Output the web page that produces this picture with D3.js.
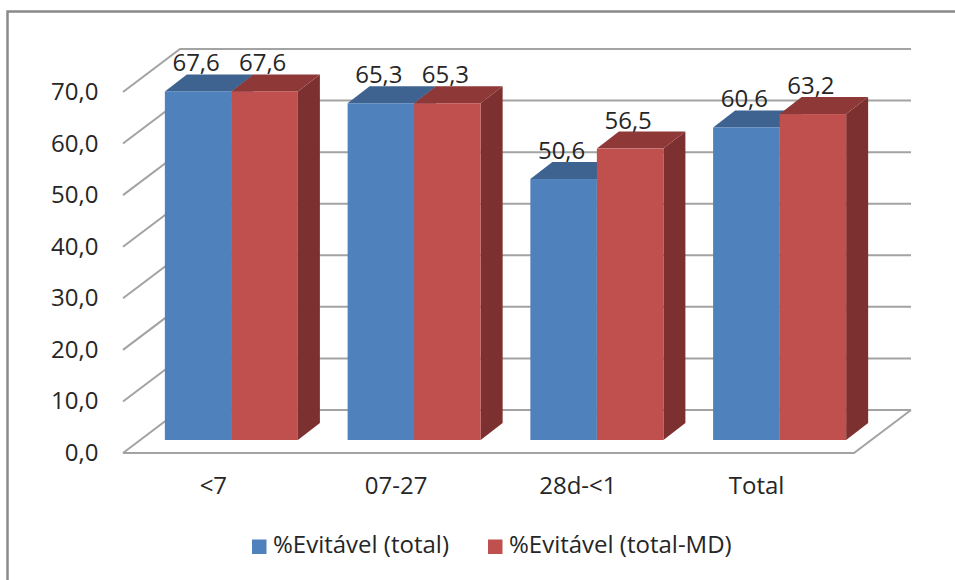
<!DOCTYPE html>
<html>
<head>
<meta charset="utf-8">
<script src="https://cdn.jsdelivr.net/npm/d3@7"></script>
<style>
html,body{margin:0;padding:0;background:#fff;}
svg{display:block;}
text{font-family:"Open Sans",sans-serif;fill:#262626;}
</style>
</head>
<body>
<svg id="chart" width="955" height="580"></svg>
<script>
const categories = ["<7", "07-27", "28d-<1", "Total"];
const seriesNames = ["%Evitável (total)", "%Evitável (total-MD)"];
const totalValues = [67.6, 65.3, 50.6, 60.6];
const totalMdValues = [67.6, 65.3, 56.5, 63.2];
const tickValues = [0, 10, 20, 30, 40, 50, 60, 70];
const seriesColors = [
  {front: "#4f81bd", top: "#3e6391", side: "#3e6391"},
  {front: "#c0504d", top: "#8e3937", side: "#7c3130"}
];

const fmt = d3.format(".1f");
const comma = v => fmt(v).replace(".", ",");

const svg = d3.select("#chart");

// Oblique projection: the box runs from the front plane to the back wall
const boxDepth = {dx: 57, dy: -43};
const barDepth = {dx: 22, dy: -17};
const barPlane = {dx: 17, dy: -13};

const y = d3.scaleLinear().domain([0, 70]).range([453, 92]);
const x = d3.scaleBand().domain(categories).range([123, 854]).paddingInner(0).paddingOuter(0);
const inner = d3.scaleBand().domain([0, 1]).range([0, x.bandwidth() * 0.728]);
const groupOffset = (x.bandwidth() - inner.range()[1]) / 2;

// Chart frame
svg.append("path")
  .attr("d", "M7.5,580V11.5H955")
  .attr("fill", "none").attr("stroke", "#8a8a8a").attr("stroke-width", 2.5);

// Side and back walls
const grid = svg.append("g").attr("fill", "none").attr("stroke", "#a3a3a3").attr("stroke-width", 2);
const x0 = x.range()[0], x1 = x.range()[1];
grid.selectAll("path.wall").data(tickValues).join("path")
  .attr("class", "wall")
  .attr("d", v => `M${x0},${y(v)}L${x0 + boxDepth.dx},${y(v) + boxDepth.dy}H${x1 + boxDepth.dx}`);

// Floor outline
grid.append("path")
  .attr("d", `M${x0},${y(0)}H${x1}L${x1 + boxDepth.dx},${y(0) + boxDepth.dy}`);

// Value axis labels
svg.append("g").selectAll("text").data(tickValues).join("text")
  .attr("x", 98.5).attr("y", v => y(v) + 8)
  .attr("text-anchor", "end").attr("font-size", 24)
  .text(comma);

// Category labels
const labelShift = [-1, -1, -2, -6];
svg.append("g").selectAll("text").data(categories).join("text")
  .attr("x", (d, i) => x(d) + x.bandwidth() / 2 + labelShift[i]).attr("y", 494)
  .attr("text-anchor", "middle").attr("font-size", 24)
  .text(d => d);

// Bars
const rows = [totalValues, totalMdValues];
const bars = svg.append("g");
categories.forEach((cat, c) => {
  rows.forEach((values, s) => {
    const v = values[c];
    const left = x(cat) + groupOffset + inner(s) + barPlane.dx;
    const right = left + inner.bandwidth();
    const top = y(v) + barPlane.dy;
    const base = y(0) + barPlane.dy;
    const col = seriesColors[s];
    const g = bars.append("g");
    g.append("polygon").attr("fill", col.side)
      .attr("points", [[right, top], [right + barDepth.dx, top + barDepth.dy],
        [right + barDepth.dx, base + barDepth.dy], [right, base]].join(" "));
    g.append("polygon").attr("fill", col.top)
      .attr("points", [[left, top], [left + barDepth.dx, top + barDepth.dy],
        [right + barDepth.dx, top + barDepth.dy], [right, top]].join(" "));
    g.append("rect").attr("fill", col.front)
      .attr("x", left).attr("y", top).attr("width", right - left).attr("height", base - top);
  });
});

// Value labels above each bar
categories.forEach((cat, c) => {
  rows.forEach((values, s) => {
    const v = values[c];
    svg.append("text")
      .attr("x", x(cat) + groupOffset + inner(s) + barPlane.dx + inner.bandwidth() / 2 - 2)
      .attr("y", y(v) + barPlane.dy - 20)
      .attr("text-anchor", "middle").attr("font-size", 24)
      .text(comma(v));
  });
});

// Legend
const legendX = [252, 488];
const legend = svg.append("g");
seriesNames.forEach((name, i) => {
  legend.append("rect").attr("x", legendX[i]).attr("y", 539.5).attr("width", 14.5).attr("height", 14.5)
    .attr("fill", seriesColors[i].front);
  legend.append("text").attr("x", legendX[i] + 21).attr("y", 553)
    .attr("font-size", 24).text(name);
});
</script>
</body>
</html>
